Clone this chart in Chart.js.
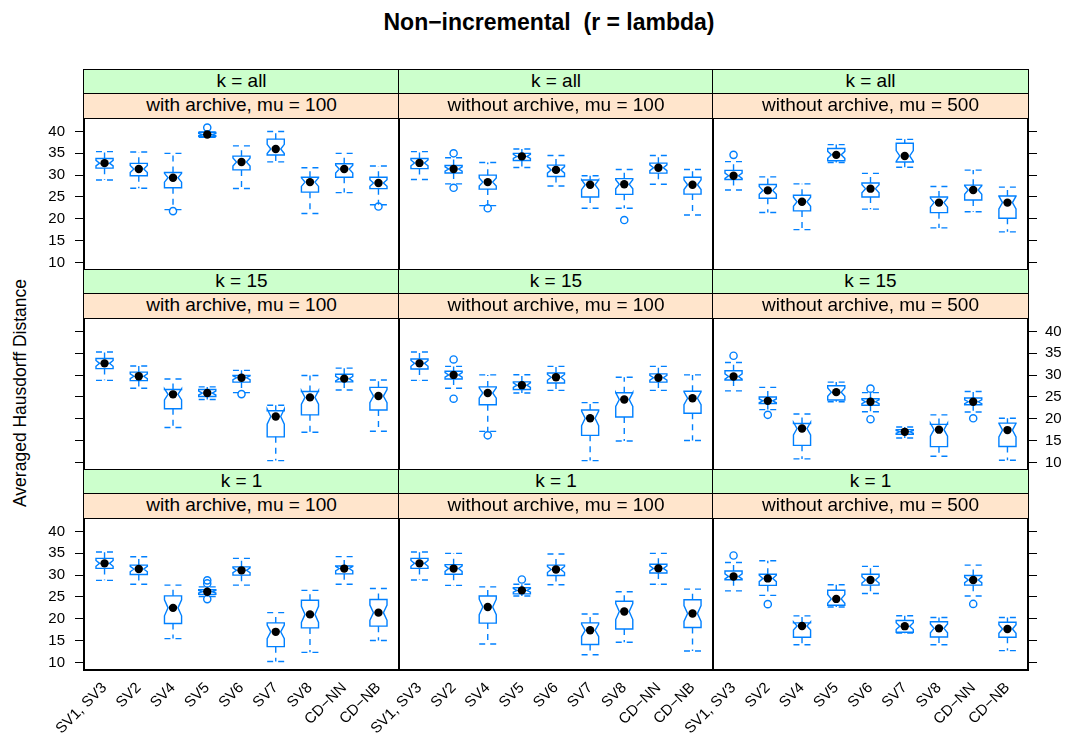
<!DOCTYPE html>
<html>
<head>
<meta charset="utf-8">
<script src="https://cdn.jsdelivr.net/npm/chart.js@4.4.1/dist/chart.umd.min.js"></script>
<style>
  html, body { margin: 0; padding: 0; background: #fff; }
  #page { position: relative; width: 1073px; height: 738px; overflow: hidden;
          font-family: 'Liberation Sans', Arial, Helvetica, sans-serif; color: #000; }
  .title { position: absolute; left: 299px; width: 500px; top: 8px; text-align: center;
           font-weight: bold; font-size: 23px; line-height: 28px; white-space: nowrap; }
  .ylab { position: absolute; left: 20px; top: 393px; font-size: 17.5px; white-space: nowrap;
          transform: translate(-50%, -50%) rotate(-90deg); }
  .strip { position: absolute; box-sizing: border-box; border: 1px solid #000; text-align: center;
           font-size: 19px; line-height: 22px; white-space: nowrap; overflow: hidden; }
  canvas { position: absolute; }
</style>
</head>
<body>
<div id="page">
  <div class="title">Non&#8722;incremental&nbsp; (r = lambda)</div>
  <div class="ylab">Averaged Hausdorff Distance</div>
</div>
<script>
// ---- data ----------------------------------------------------------------
const categories = ['SV1, SV3', 'SV2', 'SV4', 'SV5', 'SV6', 'SV7', 'SV8', 'CD\u2212NN', 'CD\u2212NB'];
const kLevels = ['k = all', 'k = 15', 'k = 1'];
const archiveLevels = ['with archive, mu = 100', 'without archive, mu = 100', 'without archive, mu = 500'];
const yTicks = [10, 15, 20, 25, 30, 35, 40];

// each entry: [lower whisker, Q1, median, Q3, upper whisker], one per category
const kAllWith100 = [
  [28.9, 31.6, 32.75, 33.8, 35.4], [27.0, 29.85, 31.4, 32.7, 35.3], [22.1, 27.1, 29.4, 30.6, 35.0],
  [38.7, 38.9, 39.3, 39.8, 39.9], [26.95, 31.2, 33.0, 34.35, 36.7], [33.05, 34.6, 36.0, 38.25, 40.0],
  [21.2, 26.1, 28.4, 29.5, 31.7], [26.0, 29.5, 31.4, 32.6, 35.0], [23.2, 26.9, 28.2, 29.5, 32.1]
];
const kAllWithout100 = [
  [29.0, 31.5, 32.8, 33.8, 35.4], [28.0, 30.5, 31.4, 32.2, 34.0], [23.0, 26.8, 28.4, 30.0, 32.9],
  [31.75, 33.35, 34.3, 35.0, 36.0], [27.5, 29.7, 31.2, 32.3, 34.5], [22.4, 25.0, 27.8, 28.9, 29.85],
  [22.4, 25.6, 27.9, 29.2, 31.3], [27.9, 30.45, 31.7, 32.75, 34.5], [20.85, 25.65, 27.8, 29.5, 31.3]
];
const kAllWithout500 = [
  [26.6, 29.0, 29.85, 31.1, 33.1], [21.45, 24.7, 26.5, 27.85, 29.6], [17.5, 21.8, 23.9, 25.4, 28.0],
  [32.9, 33.3, 34.65, 36.1, 37.0], [22.2, 25.0, 26.9, 28.2, 30.4], [31.8, 33.0, 34.4, 37.3, 38.2],
  [17.9, 21.4, 23.7, 25.0, 27.4], [21.6, 24.3, 26.6, 27.7, 31.15], [17.0, 20.1, 23.7, 25.2, 27.25]
];
const k15With100 = [
  [28.8, 31.5, 32.7, 33.8, 35.3], [27.0, 28.75, 29.75, 30.7, 32.1], [18.0, 22.3, 25.6, 26.7, 29.1],
  [24.4, 25.1, 25.9, 26.7, 27.3], [26.0, 28.4, 29.4, 29.9, 31.1], [10.4, 15.85, 20.5, 21.85, 23.1],
  [16.9, 20.9, 24.9, 26.25, 29.9], [26.6, 28.45, 29.2, 30.2, 31.6], [17.15, 22.0, 25.2, 27.2, 28.9]
];
const k15Without100 = [
  [28.8, 31.4, 32.7, 33.7, 35.3], [27.0, 29.1, 30.05, 30.9, 32.0], [17.1, 23.2, 25.9, 27.3, 30.05],
  [25.9, 26.7, 27.7, 28.45, 30.1], [26.5, 28.2, 29.5, 30.5, 32.0], [10.4, 16.2, 20.1, 22.0, 23.7],
  [14.9, 20.4, 24.4, 25.95, 29.5], [26.5, 28.4, 29.4, 30.3, 32.0], [15.0, 21.25, 24.7, 26.3, 30.05]
];
const k15Without500 = [
  [26.4, 28.9, 29.7, 31.0, 32.9], [22.1, 23.5, 24.1, 25.0, 27.2], [10.8, 13.9, 17.75, 18.9, 21.1],
  [23.9, 24.3, 26.1, 27.55, 28.4], [21.6, 23.1, 23.9, 24.6, 26.0], [15.6, 16.45, 17.0, 17.5, 18.1],
  [11.4, 13.6, 17.5, 18.7, 20.9], [21.55, 23.2, 23.9, 24.75, 26.25], [10.5, 13.65, 17.4, 19.0, 20.1]
];
const k1With100 = [
  [28.8, 31.55, 32.7, 33.85, 35.3], [27.9, 30.15, 31.4, 32.3, 34.2], [15.45, 18.9, 22.5, 25.25, 27.7],
  [25.1, 25.6, 26.2, 26.65, 27.3], [27.7, 30.0, 31.1, 31.9, 33.85], [10.2, 13.6, 17.0, 19.05, 21.4],
  [12.3, 17.9, 21.0, 24.25, 26.5], [27.9, 30.3, 31.5, 32.1, 34.25], [15.0, 18.3, 21.4, 24.4, 26.95]
];
const k1Without100 = [
  [28.9, 31.55, 32.7, 33.85, 35.3], [27.65, 30.2, 31.5, 32.4, 35.0], [14.2, 19.0, 22.7, 25.2, 27.3],
  [25.2, 25.7, 26.5, 27.1, 27.9], [27.8, 29.9, 31.3, 32.3, 34.85], [11.75, 14.1, 17.35, 19.05, 21.1],
  [14.6, 17.65, 21.65, 24.0, 26.2], [27.9, 30.5, 31.55, 32.5, 35.0], [12.6, 18.0, 21.2, 24.35, 26.8]
];
const k1Without500 = [
  [26.4, 28.95, 29.7, 30.95, 32.9], [25.35, 27.65, 29.25, 30.2, 33.3], [14.05, 15.75, 18.35, 19.05, 20.65],
  [22.7, 23.1, 24.55, 26.55, 27.8], [25.8, 27.7, 28.9, 30.2, 32.0], [16.7, 16.9, 18.3, 19.6, 20.7],
  [14.05, 15.8, 17.8, 19.3, 20.3], [25.2, 27.7, 28.9, 29.9, 32.3], [12.7, 15.75, 17.65, 19.2, 20.3]
];

// outliers: [category index, value]
const kAllWith100Out = [[2, 21.75], [3, 40.9], [8, 22.8]];
const kAllWithout100Out = [[1, 35.0], [1, 27.1], [2, 22.4], [6, 19.7]];
const kAllWithout500Out = [[0, 34.65]];
const k15With100Out = [[4, 25.65]];
const k15Without100Out = [[1, 33.6], [1, 24.6], [2, 16.2]];
const k15Without500Out = [[0, 34.45], [1, 20.9], [4, 26.9], [4, 19.9], [7, 20.1]];
const k1With100Out = [[3, 28.8], [3, 28.1], [3, 24.5]];
const k1Without100Out = [[3, 29.0]];
const k1Without500Out = [[0, 34.5], [1, 23.35], [7, 23.4]];

const runsPerBox = 30;   // sample size used for the notch half-width

// ---- layout ----------------------------------------------------------------
const BLUE = '#0080ff';
const FONT = "'Liberation Sans', Arial, Helvetica, sans-serif";
const colLeft = [84, 399, 713];
const panelW = [315, 314, 315];
const rowTop = [118, 318, 518];
const PANEL_H = 152;
const STRIP_H = 24;
const LEFT_ROOM = 75, RIGHT_ROOM = 55, TOP_ROOM = 26, BOTTOM_ROOM = 26, XLAB_ROOM = 70;
const Y_MIN = 8.25, Y_MAX = 43.1;

const panels = [
  [kAllWith100, kAllWith100Out], [kAllWithout100, kAllWithout100Out], [kAllWithout500, kAllWithout500Out],
  [k15With100, k15With100Out], [k15Without100, k15Without100Out], [k15Without500, k15Without500Out],
  [k1With100, k1With100Out], [k1Without100, k1Without100Out], [k1Without500, k1Without500Out]
];

// notched boxes + dashed whiskers, drawn through the chart's scales
const boxPlugin = {
  id: 'notchedBoxes',
  beforeDatasetsDraw(chart, args, opts) {
    const { ctx, scales: { x, y } } = chart;
    const half = x.getPixelForValue(1.25) - x.getPixelForValue(1);
    const inset = half * 0.42;
    const py = v => y.getPixelForValue(v);
    ctx.save();
    ctx.strokeStyle = BLUE;
    ctx.lineWidth = 1.4;
    opts.stats.forEach((s, i) => {
      const [lo, q1, med, q3, hi] = s;
      const cx = x.getPixelForValue(i + 1);
      const d = 1.58 * (q3 - q1) / Math.sqrt(runsPerBox);
      ctx.setLineDash([6, 5]);
      ctx.beginPath();
      ctx.moveTo(cx, py(q3)); ctx.lineTo(cx, py(hi));
      ctx.moveTo(cx, py(q1)); ctx.lineTo(cx, py(lo));
      ctx.moveTo(cx - half, py(hi)); ctx.lineTo(cx + half, py(hi));
      ctx.moveTo(cx - half, py(lo)); ctx.lineTo(cx + half, py(lo));
      ctx.stroke();
      ctx.setLineDash([]);
      ctx.beginPath();
      ctx.moveTo(cx - half, py(q1));
      ctx.lineTo(cx - half, py(med - d));
      ctx.lineTo(cx - half + inset, py(med));
      ctx.lineTo(cx - half, py(med + d));
      ctx.lineTo(cx - half, py(q3));
      ctx.lineTo(cx + half, py(q3));
      ctx.lineTo(cx + half, py(med + d));
      ctx.lineTo(cx + half - inset, py(med));
      ctx.lineTo(cx + half, py(med - d));
      ctx.lineTo(cx + half, py(q1));
      ctx.closePath();
      ctx.stroke();
    });
    ctx.restore();
  }
};

const framePlugin = {
  id: 'panelFrame',
  afterDatasetsDraw(chart) {
    const { ctx, chartArea: a } = chart;
    ctx.save();
    ctx.strokeStyle = '#000';
    ctx.lineWidth = 2;
    ctx.strokeRect(Math.round(a.left), Math.round(a.top),
                   Math.round(a.right - a.left), Math.round(a.bottom - a.top));
    ctx.restore();
  }
};

const page = document.getElementById('page');

function makePanel(row, col, stats, outliers) {
  const bottomRoom = row === 2 ? XLAB_ROOM : BOTTOM_ROOM;
  const w = LEFT_ROOM + panelW[col] + RIGHT_ROOM;
  const h = TOP_ROOM + PANEL_H + bottomRoom;
  const canvas = document.createElement('canvas');
  canvas.width = w; canvas.height = h;
  canvas.style.width = w + 'px'; canvas.style.height = h + 'px';
  canvas.style.left = (colLeft[col] - LEFT_ROOM) + 'px';
  canvas.style.top = (rowTop[row] - TOP_ROOM) + 'px';
  page.appendChild(canvas);

  const tickFont = { family: FONT, size: 15 };
  new Chart(canvas, {
    type: 'scatter',
    data: {
      datasets: [{
        label: 'median',
        data: stats.map((s, i) => ({ x: i + 1, y: s[2] })),
        pointRadius: 4.2, backgroundColor: '#000', borderWidth: 0
      }, {
        label: 'outliers',
        data: outliers.map(([i, v]) => ({ x: i + 1, y: v })),
        pointRadius: 3.6, backgroundColor: 'rgba(0,0,0,0)', borderColor: BLUE, borderWidth: 1.4
      }]
    },
    options: {
      responsive: false, animation: false, devicePixelRatio: 1, events: [],
      layout: { padding: { top: TOP_ROOM, bottom: row === 2 ? 0 : BOTTOM_ROOM, left: 0, right: 0 } },
      plugins: { legend: { display: false }, tooltip: { enabled: false }, notchedBoxes: { stats } },
      scales: {
        x: {
          type: 'linear', min: 0.4, max: 9.6, display: row === 2,
          afterBuildTicks: s => { s.ticks = categories.map((_, i) => ({ value: i + 1 })); },
          afterFit: s => { s.height = row === 2 ? XLAB_ROOM : 0; },
          grid: { display: false }, border: { display: false },
          ticks: { autoSkip: false, minRotation: 45, maxRotation: 45, padding: 1, color: '#000',
                   font: tickFont, callback: v => categories[v - 1] }
        },
        y: {
          position: 'left', min: Y_MIN, max: Y_MAX,
          afterBuildTicks: s => { s.ticks = yTicks.map(v => ({ value: v })); },
          afterFit: s => { s.width = LEFT_ROOM; },
          grid: { display: col === 0, drawOnChartArea: false, tickLength: 9, color: '#000' },
          border: { display: false },
          ticks: { padding: 10, color: '#000', font: tickFont,
                   callback: v => (col === 0 && row !== 1) ? v : '' }
        },
        y2: {
          position: 'right', min: Y_MIN, max: Y_MAX,
          afterBuildTicks: s => { s.ticks = yTicks.map(v => ({ value: v })); },
          afterFit: s => { s.width = RIGHT_ROOM; },
          grid: { display: col === 2, drawOnChartArea: false, tickLength: 9, color: '#000' },
          border: { display: false },
          ticks: { padding: 8, color: '#000', font: tickFont,
                   callback: v => (col === 2 && row === 1) ? v : '' }
        }
      }
    },
    plugins: [boxPlugin, framePlugin]
  });
}

panels.forEach(([stats, outs], idx) => makePanel(Math.floor(idx / 3), idx % 3, stats, outs));

// strips: outer (green) k level, inner (orange) archive level
for (let r = 0; r < 3; r++) {
  for (let c = 0; c < 3; c++) {
    [[kLevels[r], '#ccffcc', rowTop[r] - 2 * STRIP_H],
     [archiveLevels[c], '#ffe5cc', rowTop[r] - STRIP_H]].forEach(([text, bg, top]) => {
      const d = document.createElement('div');
      d.className = 'strip';
      d.textContent = text;
      d.style.background = bg;
      d.style.left = (colLeft[c] - 1) + 'px';
      d.style.width = (panelW[c] + 2) + 'px';
      d.style.top = (top - 1) + 'px';
      d.style.height = (STRIP_H + 2) + 'px';
      page.appendChild(d);
    });
  }
}
</script>
</body>
</html>
